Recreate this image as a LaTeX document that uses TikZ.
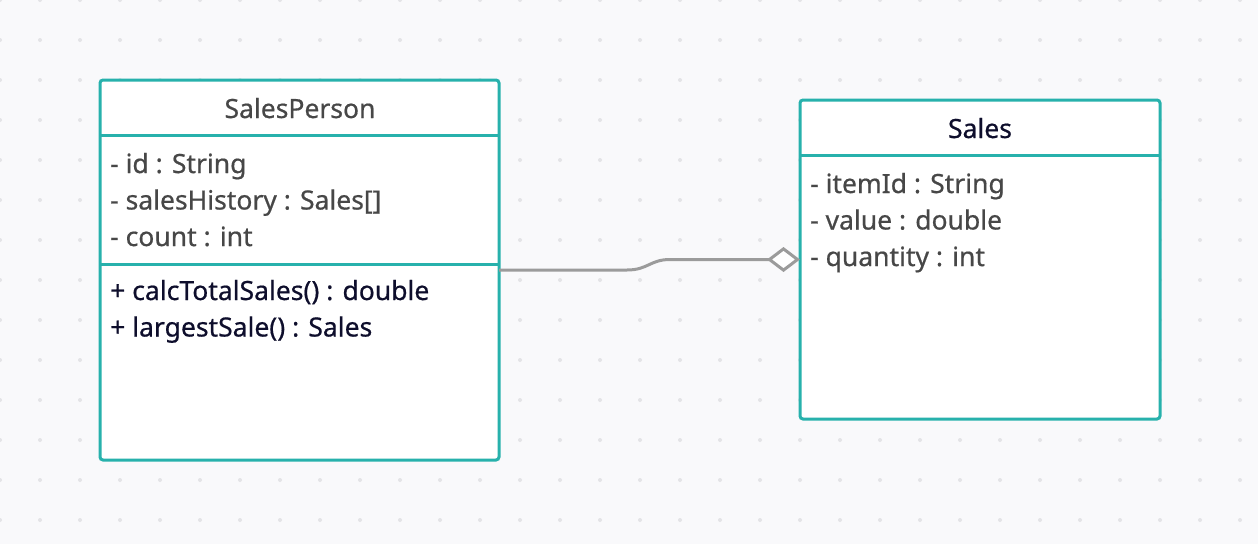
\documentclass[tikz,border=0pt]{standalone}
\usepackage{fontspec}
\setmainfont{Noto Sans}[FakeBold=0.6]
\usepackage{xcolor}
\usetikzlibrary{arrows.meta}
\usetikzlibrary{positioning}
\definecolor{teal}{HTML}{27B1AC}
\definecolor{bgcol}{HTML}{F9F9FB}
\definecolor{dotcol}{HTML}{E4E4E7}
\definecolor{linkcol}{HTML}{9B9B9B}
\definecolor{attrcol}{HTML}{474747}
\definecolor{opcol}{HTML}{0E0E2C}

\begin{document}
\begin{tikzpicture}[x=1pt, y=-1pt, font=\fontsize{26.5}{32}\selectfont,
  classbox/.style={draw=teal, fill=white, line width=3pt, rounded corners=3pt,
    inner sep=0pt, outer sep=0pt},
  divider/.style={draw=teal, line width=3pt},
  member/.style={anchor=base west, inner sep=0pt, text=attrcol},
  operation/.style={member, text=opcol}]
  \useasboundingbox (0,0) rectangle (1258,544);
  \fill[bgcol] (0,0) rectangle (1258,544);
  \foreach \x in {0,40,...,1240} {
    \foreach \y in {0,40,...,520} {
      \fill[dotcol] (\x,\y) circle (2pt);
    }
  }

  % SalesPerson
  \node[classbox, minimum width=399pt, minimum height=380pt] (sp) at (299.5,270) {};
  \draw[divider] (sp.west |- 0,135) -- (sp.east |- 0,135);
  \draw[divider] (sp.west |- 0,264) -- (sp.east |- 0,264);
  \node[inner sep=0pt, anchor=base, text=attrcol] (sptitle) at (300,118) {SalesPerson};
  \node[member] (spid) at (110,173) {- id : String};
  \node[member] (sphist) at (110,209.5) {- salesHistory : Sales[]};
  \node[member] (spcount) at (110,246) {- count : int};
  \node[operation] (sptotal) at (110,300) {+ calcTotalSales() : double};
  \node[operation] (splargest) at (110,336.5) {+ largestSale() : Sales};

  % Sales
  \node[classbox, minimum width=360pt, minimum height=319pt] (sales) at (980,259.5) {};
  \draw[divider] (sales.west |- 0,155.5) -- (sales.east |- 0,155.5);
  \node[inner sep=0pt, anchor=base, text=opcol] (salestitle) at (980,138) {Sales};
  \node[member] (salesitem) at (810,193) {- itemId : String};
  \node[member] (salesvalue) at (810,229.5) {- value : double};
  \node[member] (salesqty) at (810,266) {- quantity : int};

  % aggregation
  \coordinate (aggstart) at (sp.east |- 0,270);
  \coordinate (aggend) at (sales.west |- 0,259.5);
  \draw[linkcol, line width=3pt, -{Diamond[open, fill=white, length=33pt, width=25pt]}]
    (aggstart) -- (627,270) .. controls (648,270) and (650,259.5) .. (670,259.5) -- (aggend);
\end{tikzpicture}
\end{document}
